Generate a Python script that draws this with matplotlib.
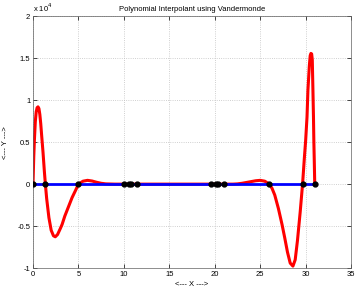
import matplotlib.pyplot as plt
import numpy as np

plt.rcParams['font.family'] = ['Liberation Sans', 'DejaVu Sans']

# data nodes (y values are essentially zero at the 1e4 scale)
node_x = [0, 1.36, 5.0, 10.0, 10.6, 10.8, 11.4, 19.6, 20.15, 20.4, 21.0, 26.0, 29.7, 31.0]
node_y = [0] * len(node_x)

# red interpolant, in units of 1e4
poly_x = [0, 0.08, 0.15, 0.25, 0.35, 0.45, 0.55, 0.65, 0.75, 0.85, 0.95, 1.1, 1.25, 1.36,
          1.5, 1.75, 2.0, 2.25, 2.45, 2.7, 3.0, 3.2, 3.5, 3.9, 4.3, 4.7, 5.0,
          5.5, 6.0, 6.5, 7.0, 7.5, 8.0, 9.0, 12.0, 16.0, 20.0, 22.0, 22.5, 23.0,
          23.5, 24.0, 24.5, 25.0, 25.5, 26.0, 26.3, 26.6, 27.0, 27.4, 27.7, 28.0,
          28.3, 28.6, 28.85, 29.1, 29.4, 29.66, 29.85, 30.0, 30.15, 30.25, 30.4,
          30.5, 30.58, 30.66, 30.73, 30.8, 30.86, 30.9, 30.95, 31.0]
poly_y = [0, 0.32, 0.52, 0.74, 0.86, 0.91, 0.92, 0.90, 0.83, 0.72, 0.58, 0.38, 0.15, 0,
          -0.17, -0.40, -0.55, -0.615, -0.627, -0.60, -0.53, -0.48, -0.38, -0.27, -0.16, -0.07, 0,
          0.035, 0.045, 0.037, 0.022, 0.01, 0.003, 0, 0, 0, 0, 0, 0.003, 0.01,
          0.02, 0.03, 0.04, 0.045, 0.035, 0, -0.05, -0.13, -0.29, -0.48, -0.64, -0.81,
          -0.94, -0.976, -0.9, -0.67, -0.33, 0, 0.3, 0.52, 0.8, 1.12, 1.4,
          1.53, 1.556, 1.55, 1.48, 1.12, 0.8, 0.52, 0.27, 0]
scale_exp = 4

fig = plt.figure(figsize=(3.55, 2.88), dpi=100)
ax = fig.add_axes([0.093, 0.069, 0.896, 0.875])

ax.plot(poly_x, poly_y, color='red', lw=2.2, zorder=2)
ax.plot(node_x, node_y, color='blue', lw=2.0, zorder=3)
ax.plot(node_x, node_y, 'o', color='black', ms=3.5, zorder=4)

ax.set_xlim(0, 35)
ax.set_ylim(-1, 2)
ax.set_xticks(np.arange(0, 36, 5))
ax.set_yticks([-1, -0.5, 0, 0.5, 1, 1.5, 2])
ax.set_yticklabels(['-1', '-0.5', '0', '0.5', '1', '1.5', '2'])
ax.tick_params(direction='in', labelsize=5.5, length=3, width=0.5, pad=2,
               top=True, right=True)
ax.grid(True, linestyle=':', color='#c0c0c0', lw=0.6)
for s in ax.spines.values():
    s.set_linewidth(0.5)
    s.set_color('#606060')

ax.set_title('Polynomial Interpolant using Vandermonde', fontsize=5.5, pad=4)
ax.set_xlabel('<--- X --->', fontsize=5.5, labelpad=2)
ax.set_ylabel('<--- Y --->', fontsize=5.5, labelpad=6)
ax.text(0, 1.01, r'x 10$^{%d}$' % scale_exp, transform=ax.transAxes,
        fontsize=5.5, ha='left', va='bottom')

fig.savefig('out.png', dpi=100)
